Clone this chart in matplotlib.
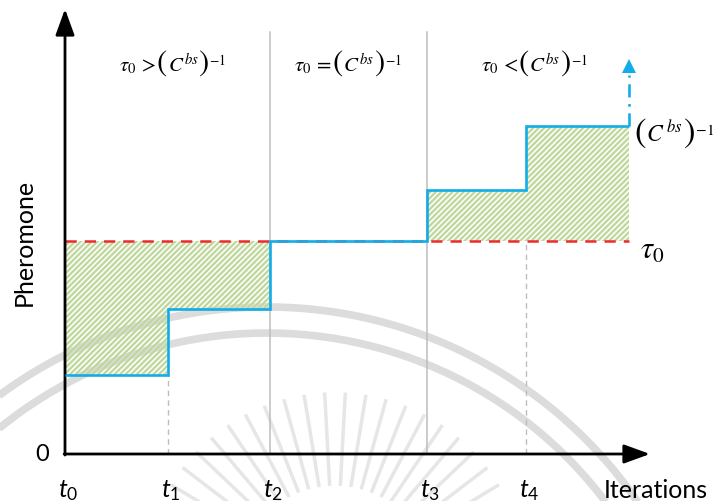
import numpy as np
import matplotlib.pyplot as plt
from matplotlib.offsetbox import TextArea, HPacker, AnnotationBbox

plt.rcParams['font.family'] = ['Lato', 'DejaVu Sans']
plt.rcParams['mathtext.fontset'] = 'custom'
plt.rcParams['mathtext.it'] = 'Lato:italic'
plt.rcParams['mathtext.rm'] = 'Lato'
plt.rcParams['hatch.linewidth'] = 1.7

# iteration boundaries t0..t4 and the end of the last interval
t_edges = [0.0, 1.0, 2.0, 3.53, 4.5, 5.5]
t_labels = [r'$t_{\mathit{0}}$', r'$t_{\mathit{1}}$', r'$t_{\mathit{2}}$',
            r'$t_{\mathit{3}}$', r'$t_{\mathit{4}}$']
# pheromone level held during each interval
levels = [0.37, 0.68, 1.0, 1.24, 1.54]
tau0 = 1.0
arrow_top = 1.83
case_ops = ['>', '=', '<']
case_x = [1.05, 2.76, 4.58]

blue = '#12ADE8'
red = '#EE2B2B'
green = '#C0D89E'
grey = '#BDBDBD'


def formula(ax, x, y, parts):
    # glue pieces of different size on a common baseline
    boxes = [TextArea(s, textprops=dict(fontsize=fs, math_fontfamily='stix'))
             for s, fs in parts]
    pack = HPacker(children=boxes, align='baseline', pad=0, sep=0)
    ab = AnnotationBbox(pack, (x, y), frameon=False, pad=0, box_alignment=(0.5, 0.5))
    ax.add_artist(ab)


fig = plt.figure(figsize=(7.16, 5.02), dpi=100)

# faint seal in the background
bg = fig.add_axes([0, 0, 1, 1])
bg.set_xlim(0, 716)
bg.set_ylim(502, 0)
bg.axis('off')
th = np.linspace(0, 2 * np.pi, 400)
for r in (450, 424):
    bg.plot(267 + r * np.cos(th), 758 + r * np.sin(th), color='#DCDCDC', lw=5.5, solid_capstyle='butt')
for a in np.linspace(np.radians(205), np.radians(335), 22):
    bg.plot([335 + 100 * np.cos(a), 335 + 190 * np.cos(a)],
            [585 + 100 * np.sin(a), 585 + 190 * np.sin(a)], color='#E6E6E6', lw=2.5)

ax = fig.add_axes([0, 0, 1, 1])
ax.set_xlim(-65 / 102.5, 651 / 102.5)
ax.set_ylim(-47 / 213, 455 / 213)
ax.axis('off')

# hatched gap between the pheromone level and tau0
step_y = levels + [levels[-1]]
ax.fill_between(t_edges, step_y, tau0, step='post', facecolor='none',
                edgecolor=green, hatch='//////', linewidth=0, zorder=2)

# iteration markers
ax.plot([t_edges[2]] * 2, [0, 1.98], color=grey, lw=1.1, zorder=1)
ax.plot([t_edges[3]] * 2, [0, 1.98], color=grey, lw=1.1, zorder=1)
ax.plot([t_edges[1]] * 2, [0, levels[0]], color=grey, lw=1, dashes=(4, 3), zorder=1)
ax.plot([t_edges[4]] * 2, [0, tau0], color=grey, lw=1, dashes=(4, 3), zorder=1)

# tau0 reference line and pheromone steps
ax.plot([t_edges[0], t_edges[-1]], [tau0, tau0], color=red, lw=1.8, dashes=(4.5, 3.2), zorder=3)
ax.stairs(levels, t_edges, baseline=None, color=blue, lw=1.9, zorder=4)

# upper bound keeps growing
ax.plot([t_edges[-1]] * 2, [levels[-1], arrow_top - 0.05], color=blue, lw=1.9,
        linestyle=(0, (5, 2.5, 1, 2.5)), zorder=4)
ax.plot(t_edges[-1], arrow_top - 0.01, marker='^', markersize=10, color=blue,
        markeredgewidth=0, zorder=4)

# axes with arrow heads
arrow = dict(arrowstyle='-|>,head_length=0.55,head_width=0.2', color='black',
             lw=2, shrinkA=0, shrinkB=0, mutation_scale=29)
ax.annotate('', xy=(0, 445 / 213), xytext=(0, -0.005), arrowprops=arrow)
ax.annotate('', xy=(585 / 102.5, 0), xytext=(-0.008, 0), arrowprops=arrow)

ax.text(-0.22, 0, '0', fontsize=17, ha='center', va='center')
for x, lab in zip(t_edges[:-1], t_labels):
    ax.text(x + 0.03, -0.165, lab, fontsize=18, ha='center', va='center')
ax.text(5.76, -0.165, 'Iterations', fontsize=18, ha='center', va='center')
ax.text(-0.4, 1.0, 'Pheromone', fontsize=18, rotation=90, ha='center', va='center')

for x, op in zip(case_x, case_ops):
    formula(ax, x, 1.84, [(r'$\tau_0\, %s\,$' % op, 15), (r'$($', 22),
                          (r'$C^{bs}$', 15), (r'$)$', 22), (r'${}^{-1}$', 14)])
formula(ax, 5.94, 1.51, [(r'$($', 25), (r'$C^{\,bs}\,$', 17), (r'$)$', 25),
                         (r'${}^{-1}$', 16)])
ax.text(5.73, 0.96, r'$\tau_0$', fontsize=22, ha='center', va='center',
        math_fontfamily='stix')

fig.savefig('out.png', dpi=100)
